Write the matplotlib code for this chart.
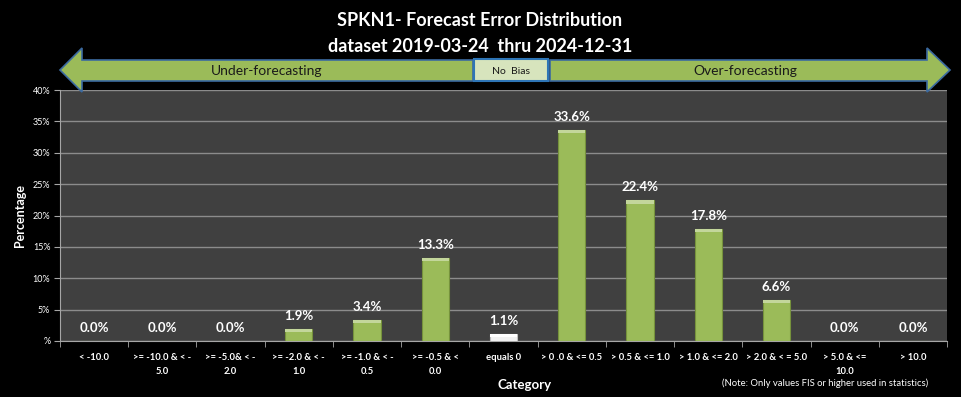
import matplotlib
matplotlib.use("Agg")
import matplotlib.pyplot as plt
from matplotlib.patches import Polygon, Rectangle

plt.rcParams["font.family"] = ["Lato", "DejaVu Sans"]

# Chart data
categories = [
    "< -10.0", ">= -10.0 & < -\n5.0", ">= -5.0& < -\n2.0", ">= -2.0 & < -\n1.0",
    ">= -1.0 & < -\n0.5", ">= -0.5 & <\n0.0", "equals 0", "> 0 .0 & <= 0.5",
    "> 0.5 & <= 1.0", "> 1.0 & <= 2.0", "> 2.0 & < = 5.0", "> 5.0 & <=\n10.0", "> 10.0",
]
percentages = [0.0, 0.0, 0.0, 1.9, 3.4, 13.3, 1.1, 33.6, 22.4, 17.8, 6.6, 0.0, 0.0]
y_ticks = [0, 5, 10, 15, 20, 25, 30, 35, 40]
y_tick_labels = ["%", "5%", "10%", "15%", "20%", "25%", "30%", "35%", "40%"]

W, H = 961, 397
fig = plt.figure(figsize=(W / 100, H / 100), dpi=100, facecolor="black")

# Main plot area
ax = fig.add_axes([60 / W, 1 - 341 / H, (947 - 60) / W, (341 - 90) / H])
ax.set_facecolor("#404040")

x = range(len(categories))
colors = ["#f2f2f2" if c == "equals 0" else "#9bbb59" for c in categories]
edges = ["#bfbfbf" if c == "equals 0" else "#76923c" for c in categories]
bars = ax.bar(x, percentages, width=0.4, color=colors, edgecolor=edges, linewidth=0.8, zorder=3)

# lighter top strip to mimic the bevel
for b, c in zip(bars, categories):
    if b.get_height() > 0:
        top = "#ffffff" if c == "equals 0" else "#c3d69b"
        ax.add_patch(Rectangle((b.get_x(), b.get_height() - 0.5), b.get_width(), 0.5,
                               color=top, zorder=4, linewidth=0))

for xi, v in zip(x, percentages):
    ax.annotate(f"{v:.1f}%", (xi, v), xytext=(0, 5), textcoords="offset points",
                ha="center", va="bottom", color="white", fontsize=9.5, fontweight="bold")

ax.set_ylim(0, 40)
ax.set_xlim(-0.5, len(categories) - 0.5)
ax.set_yticks(y_ticks)
ax.set_yticklabels(y_tick_labels, color="white", fontsize=6.5)
ax.yaxis.grid(True, color="#8c8c8c", linewidth=1, zorder=0)
ax.set_axisbelow(True)

ax.set_xticks(list(x))
ax.set_xticklabels(categories, color="white", fontsize=6.8, fontweight="bold", linespacing=1.6)
ax.set_xticks([i - 0.5 for i in range(len(categories) + 1)], minor=True)
ax.tick_params(axis="x", which="major", length=0, pad=9)
ax.tick_params(axis="x", which="minor", length=4, color="#a6a6a6")
ax.tick_params(axis="y", length=4, color="#a6a6a6", pad=3)

for s in ["top", "right"]:
    ax.spines[s].set_visible(False)
for s in ["left", "bottom"]:
    ax.spines[s].set_color("#a6a6a6")

ax.set_ylabel("Percentage", color="white", fontsize=9, fontweight="bold", labelpad=5)

fig.text(525 / W, 1 - 385 / H, "Category", color="white", fontsize=9.5, fontweight="bold",
         ha="center", va="center")
fig.text(825 / W, 1 - 383 / H, "(Note: Only values FIS or higher used in statistics)",
         color="white", fontsize=6.8, ha="center", va="center")

# Title
fig.text(480 / W, 1 - 21 / H, "SPKN1- Forecast Error Distribution", color="white",
         fontsize=13, fontweight="bold", ha="center", va="center")
fig.text(480 / W, 1 - 47 / H, "dataset 2019-03-24  thru 2024-12-31", color="white",
         fontsize=13, fontweight="bold", ha="center", va="center")

# Bias arrows in pixel coordinates
ov = fig.add_axes([0, 0, 1, 1], facecolor="none")
ov.set_xlim(0, W)
ov.set_ylim(H, 0)
ov.axis("off")

green, blue = "#9bbb59", "#3b6aa0"
left_arrow = [(60, 70), (82, 48), (82, 60), (473, 60), (473, 81), (82, 81), (82, 92)]
right_arrow = [(550, 60), (927, 60), (927, 48), (950, 70), (927, 92), (927, 81), (550, 81)]
ov.add_patch(Polygon(left_arrow, closed=True, facecolor=green, edgecolor=blue, linewidth=1.2))
ov.add_patch(Polygon(right_arrow, closed=True, facecolor=green, edgecolor=blue, linewidth=1.2))
ov.add_patch(Rectangle((474, 59), 74, 22, facecolor="#d7e4bd", edgecolor="#2e75b6", linewidth=1.5))

ov.text(267, 71, "Under-forecasting", fontsize=10, ha="center", va="center", color="#1a1a1a")
ov.text(511, 71, "No  Bias", fontsize=7.5, ha="center", va="center", color="#1a1a1a")
ov.text(745, 71, "Over-forecasting", fontsize=10, ha="center", va="center", color="#1a1a1a")

fig.savefig("out.png", dpi=100, facecolor="black")
